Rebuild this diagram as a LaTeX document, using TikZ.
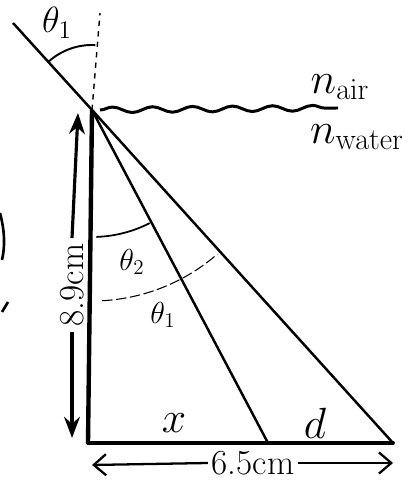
\documentclass[tikz,border=0pt]{standalone}
\usetikzlibrary{arrows.meta,decorations.pathmorphing}
\begin{document}
\begin{tikzpicture}[x=0.02cm,y=0.02cm,
  ray/.style={line width=1.4pt},
  bigtext/.style={font=\fontsize{24}{28}\selectfont},
  midtext/.style={font=\fontsize{20}{24}\selectfont},
  angtext/.style={font=\fontsize{17}{20}\selectfont}]
\useasboundingbox (0,0) rectangle (414,482);
\coordinate (src) at (13,459);
\coordinate (surf) at (92,372);
\coordinate (norm) at (100,469);
\coordinate (botl) at (88,39);
\coordinate (hit) at (268,39);
\coordinate (botr) at (393,39);
\coordinate (wavel) at (100,372);
\coordinate (waver) at (338,374);
\draw[ray] (src) -- (surf) -- (botr);
\draw[ray] (surf) -- (hit);
\draw[line width=2.5pt] (surf) -- (botl);
\draw[line width=2.2pt, line cap=round] (botl) -- (botr);
\draw[dashed, line width=0.8pt] (surf) -- (norm);
\draw[line width=1.7pt, decorate, decoration={snake, amplitude=1.6pt, segment length=0.8cm}] (wavel) -- (waver);
% angles
\draw[line width=1.1pt] (surf) ++(132:65) arc[start angle=132, end angle=87, radius=65];
\draw[line width=1pt] (surf) ++(-88:127) arc[start angle=-88, end angle=-63, radius=127];
\draw[line width=0.6pt, dash pattern=on 6pt off 2pt] (surf) ++(-87:191) arc[start angle=-87, end angle=-49, radius=191];
\node[midtext] (th1) at (57,459) {$\theta_1$};
\node[angtext] (th2) at (132,220) {$\theta_2$};
\node[angtext] (th1b) at (163,167) {$\theta_1$};
\node[bigtext] (nair) at (340,395) {$n_{\mathrm{air}}$};
\node[bigtext] (nwater) at (357,345) {$n_{\mathrm{water}}$};
\node[bigtext] (lx) at (174,59) {$x$};
\node[bigtext] (ld) at (315,59) {$d$};
% lengths
\coordinate (vtop) at (78,369);
\coordinate (vbot) at (72,44);
\coordinate (hleft) at (92,17);
\coordinate (hright) at (393,19);
\node[midtext, rotate=90, inner sep=3pt] (lenv) at (72,197) {8.9cm};
\node[midtext, inner sep=2pt] (lenh) at (253,19) {6.5cm};
\draw[line width=1.8pt, -{Stealth[length=12pt,width=9pt]}] (lenv.east) -- (vtop);
\draw[line width=1.8pt, -{Stealth[length=12pt,width=9pt]}] (lenv.west) -- (vbot);
\draw[line width=1.3pt, -{Straight Barb[length=7pt,width=12pt]}] (lenh.west) -- (hleft);
\draw[line width=1.3pt, -{Straight Barb[length=7pt,width=12pt]}] (lenh.east) -- (hright);
% cut-off marks at the left edge
\draw[line width=1.5pt] (0,269) .. controls (5,250) and (5,235) .. (2,222);
\draw[line width=1.5pt] (2,170) -- (8,180);
\end{tikzpicture}
\end{document}
